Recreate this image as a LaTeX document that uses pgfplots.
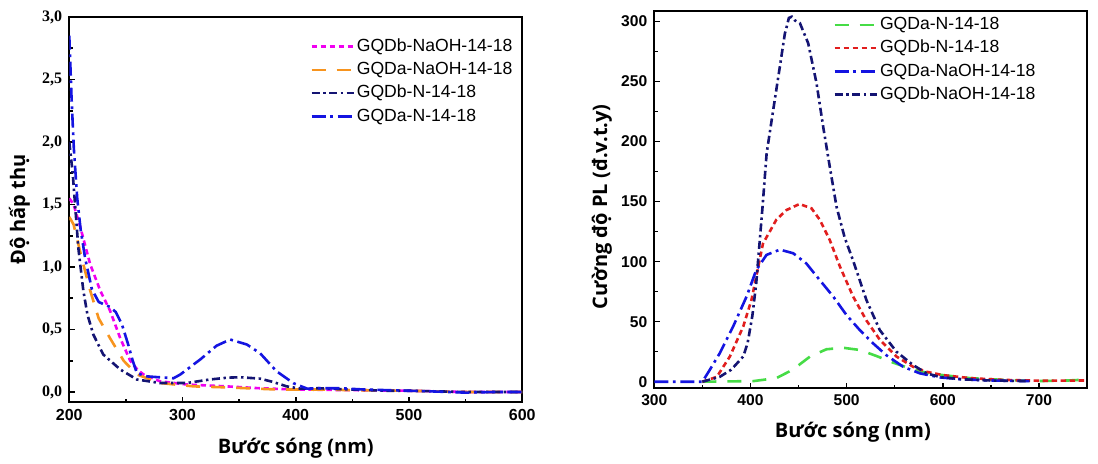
\documentclass[border=0pt]{standalone}
\usepackage{fontspec}
\usepackage{pgfplots}
\pgfplotsset{compat=1.18}
\setmainfont{Liberation Sans}
\newfontfamily\osfont{Open Sans}
\newfontfamily\serfont{Liberation Serif}
\definecolor{magC}{RGB}{240,0,240}
\definecolor{oraC}{RGB}{247,148,30}
\definecolor{navC}{RGB}{20,20,115}
\definecolor{bluC}{RGB}{20,20,225}
\definecolor{redC}{RGB}{225,30,30}
\definecolor{greC}{RGB}{70,220,70}
\tikzset{
  sdash/.style={dash pattern=on 2.7pt off 1.8pt},
  ldash/.style={dash pattern=on 7pt off 5.5pt},
  dashdot/.style={dash pattern=on 4pt off 1.8pt on 1.2pt off 1.8pt},
  ldashdot/.style={dash pattern=on 7pt off 2.3pt on 1.4pt off 2.3pt},
}
\pgfplotsset{
  common/.style={
    scale only axis,
    axis line style={line width=1pt},
    tick style={black, line width=0.8pt},
    major tick length=2.6pt,
    minor tick length=1.6pt,
    tick align=inside,
    xtick pos=bottom, ytick pos=left,
    /pgf/number format/assume math mode=true,
    label style={font=\osfont\bfseries\fontsize{10}{12}\selectfont},
    legend cell align=left,
    legend image code/.code={\draw[##1] (0pt,0pt) -- (21pt,0pt);},
    legend style={draw=none, fill=none, inner sep=0pt, row sep=0.4pt,
      nodes={inner sep=1pt, text height=7pt, text depth=2.2pt,
        font=\fontsize{8.8}{10}\selectfont}},
    every axis plot/.append style={line width=1.3pt},
  }
}
\begin{document}
\begin{tikzpicture}
\path[use as bounding box] (0pt,0pt) rectangle (549pt,231.5pt);
% ---------------- Left panel ----------------
\begin{axis}[common,
  at={(34.65pt,30.5pt)}, anchor=south west,
  width=226.5pt, height=192.5pt,
  xmin=200, xmax=600, ymin=-0.08, ymax=3.0,
  xtick={200,300,400,500,600},
  minor xtick={250,350,450,550},
  ytick={0,0.5,1,1.5,2,2.5,3},
  minor ytick={0.25,0.75,1.25,1.75,2.25,2.75},
  xticklabel style={font=\bfseries\fontsize{8}{9}\selectfont},
  yticklabel style={font=\serfont\bfseries\fontsize{8}{9}\selectfont,
    /pgf/number format/.cd, use comma, fixed, fixed zerofill, precision=1},
  xlabel={Bước sóng (nm)},
  ylabel={Độ hấp thụ},
  xlabel style={at={(axis description cs:0.5,-0.12)}, anchor=center},
  ylabel style={at={(axis description cs:-0.11,0.5)}, anchor=center, rotate=0},
  legend style={at={(axis description cs:0.531,0.953)}, anchor=north west},
]
\addplot[magC, sdash] coordinates {
(200,1.55) (203.8,1.50) (209.7,1.32) (218.5,1.02) (227.4,0.81) (236,0.65)
(245,0.43) (253.8,0.25) (260,0.18) (265.6,0.14) (280,0.086) (303.8,0.06)
(339,0.045) (368.5,0.03) (400,0.02) (450,0.015) (500,0.01) (550,0.0) (600,0.0)};
\addlegendentry{GQDb-NaOH-14-18}
\addplot[oraC, ldash] coordinates {
(200,1.40) (203.8,1.34) (211,1.07) (218.5,0.81) (225.9,0.59) (236,0.43)
(248,0.25) (259.7,0.14) (280,0.072) (310,0.045) (339,0.037) (383,0.02)
(420,0.02) (450,0.015) (500,0.01) (550,0) (600,0)};
\addlegendentry{GQDa-NaOH-14-18}
\addplot[navC, dashdot] coordinates {
(200,2.0) (203,1.75) (205.5,1.45) (208,1.15) (212.4,0.81) (216,0.62)
(221.2,0.46) (230,0.30) (245,0.18) (259.7,0.10) (280,0.072) (303.8,0.072)
(324,0.10) (340,0.115) (351,0.118) (368.5,0.107) (380,0.08) (392,0.045)
(404,0.027) (420,0.03) (450,0.02) (480,0.01) (500,0.01) (550,0.0) (600,0)};
\addlegendentry{GQDb-N-14-18}
\addplot[bluC, ldashdot] coordinates {
(200,2.85) (202,2.35) (204,1.95) (207,1.55) (210,1.3) (214,1.07) (220,0.82)
(226,0.72) (236,0.68) (241,0.64) (246.5,0.54) (252,0.38) (256,0.25)
(259.7,0.15) (268.5,0.125) (292,0.11) (298,0.14) (315.6,0.26) (330,0.37)
(342,0.42) (356.8,0.38) (368.5,0.31) (383,0.166) (398,0.07) (410,0.027)
(420,0.03) (440,0.03) (460,0.02) (500,0.01) (520,0.005) (550,-0.005)
(575,0) (600,0)};
\addlegendentry{GQDa-N-14-18}
\end{axis}
% ---------------- Right panel ----------------
\begin{axis}[common,
  at={(327.15pt,37.5pt)}, anchor=south west,
  width=216.35pt, height=188.65pt,
  xmin=300, xmax=750, ymin=-5.25, ymax=309,
  xtick={300,400,500,600,700},
  minor xtick={350,450,550,650},
  ytick={0,50,100,150,200,250,300},
  minor ytick={25,75,125,175,225,275},
  ticklabel style={font=\bfseries\fontsize{7.8}{9}\selectfont},
  xlabel={Bước sóng (nm)},
  ylabel={Cường độ PL (đ.v.t.y)},
  xlabel style={at={(axis description cs:0.459,-0.116)}, anchor=center},
  ylabel style={at={(axis description cs:-0.121,0.48)}, anchor=center, rotate=0},
  legend style={at={(axis description cs:0.413,0.993)}, anchor=north west},
]
\addplot[greC, ldash] coordinates {
(350,0) (403,0.5) (427,3) (444,10) (462,21) (479,27) (496,28.3) (514,26.4)
(531,21.4) (548,16) (566,11) (583,7.5) (600,5.5) (628,3) (663,1.5)
(697,0.5) (730,1) (750,1.8)};
\addlegendentry{GQDa-N-14-18}
\addplot[redC, sdash] coordinates {
(350,0) (365,4) (378.6,21) (392.5,46) (401,68) (406,87.5) (413,115)
(427,135) (437.5,143) (451,148) (463.5,144.4) (472,135) (482.5,118)
(493,96) (506.7,71) (520.6,51) (534.5,35) (551.8,21) (569,12.5) (583,8.3)
(600,5.5) (628,3) (663,1.5) (700,0.8) (750,1)};
\addlegendentry{GQDb-N-14-18}
\addplot[bluC, ldashdot] coordinates {
(300,0) (350,0) (357.8,10) (368,23.6) (382,46) (396,71) (406,93)
(416.7,105.6) (430.6,110) (444.4,107) (458,98.6) (472,84.7) (486,71)
(499.8,55.6) (513.7,43) (527.5,32) (541.4,22) (558.7,12.5) (576,7)
(596.8,3.6) (620,2) (650,1) (690,0.5)};
\addlegendentry{GQDa-NaOH-14-18}
\addplot[navC, dashdot] coordinates {
(350,0) (368,4) (380,10) (392.5,21) (397,32) (402,55) (406,82) (412.6,146)
(416.8,190) (423.6,226) (430.6,262.5) (435.8,290) (437.5,295) (440,303)
(443,304) (446,301) (451.4,298.7) (460,282) (468.7,248.7) (475.6,212.5)
(482.5,179) (489.5,145.8) (498,120) (506.7,101) (520.6,68) (534.5,43)
(551.8,25) (569,14) (583,7) (596.8,4) (620,2) (650,1) (690,0.5)};
\addlegendentry{GQDb-NaOH-14-18}
\end{axis}
\end{tikzpicture}
\end{document}
